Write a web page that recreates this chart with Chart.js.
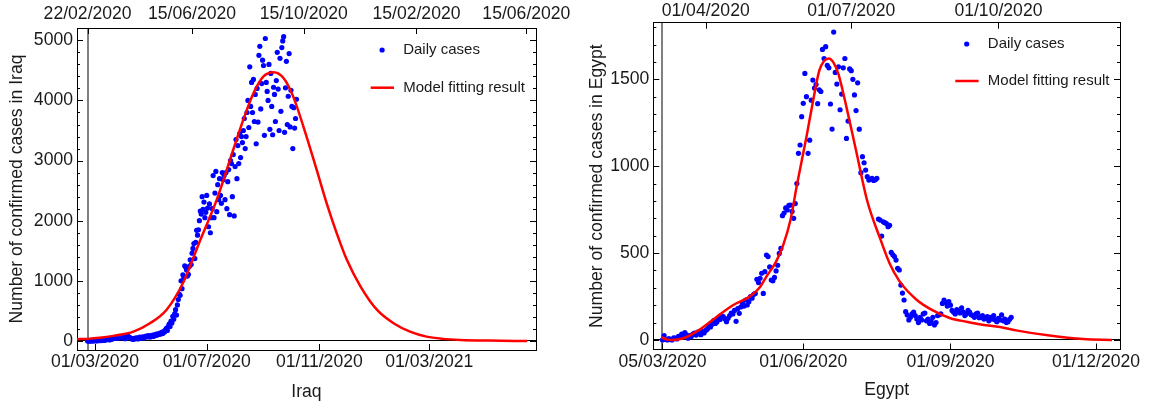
<!DOCTYPE html>
<html lang="en">
<head>
<meta charset="UTF-8">
<title>Daily cases and model fit - Iraq and Egypt</title>
<script src="https://cdn.jsdelivr.net/npm/chart.js"></script>
<style>
    html, body { margin: 0; padding: 0; background: #fff; }
    body { width: 1151px; height: 408px; position: relative; overflow: hidden; }
    canvas { position: absolute; top: 0; }
    #iraqChart { left: 0; }
    #egyptChart { left: 576px; }
</style>
</head>
<body>
<canvas id="iraqChart" width="575" height="408"></canvas>
<canvas id="egyptChart" width="575" height="408"></canvas>

<script>
// ---- Iraq (day 0 = 01/03/2020) ----
const iraqFirstDay = -8;
const iraqDaily = [
    0, 0, 0, 2, 1, 3, 5, 0, 8, 6, 3, 4, 10, 6, 12, 7, 15, 9,
    14, 20, 16, 25, 33, 26, 18, 40, 29, 35, 48, 55, 42, 61, 50, 66, 45, 72, 58, 64, 70,
    52, 47, 38, 60, 74, 81, 66, 56, 49, 39, 30, 28, 45, 36, 51, 42, 34, 58, 63, 47, 55, 70, 49, 62, 78, 68, 85, 72, 90, 66,
    70, 88, 96, 75, 104, 92, 115, 98, 120, 108, 130, 118, 142, 125, 160, 150, 185, 210, 175, 240,
    280, 240, 330, 300, 410, 360, 450, 520, 430, 600, 690, 780, 760, 1000, 870,
    1100, 1050, 1250, 1230, 1180, 1080, 1110, 1240, 1350, 1270, 1460, 1540, 1620, 1370, 1640,
    1840, 1760, 1850, 2000, 2160, 2110, 2400, 2190, 2310, 2050, 2140, 2420, 2210, 1900, 2280,
    1800, 2050, 2200, 2750, 2050, 2460, 2820, 2150, 2600, 2350, 2700, 2420, 2290, 2800, 2680,
    2750, 2350, 2800, 2200, 2650, 2850, 2100, 3000, 2950, 2400, 3100, 2080, 2900, 3350, 2700,
    3250, 2950, 3450, 3050, 3400, 3300, 3500, 3700, 3200, 3400, 3800, 4000, 3550, 4560, 3900,
    4300, 3800, 4350, 3650, 4100, 3280, 4200, 3640, 4750, 4900, 3860, 4280, 4670, 4580, 3420, 5030, 4300, 4150, 4000, 4600,
    3520, 4450, 3900, 3430, 4220, 4100, 3650, 4330, 4800, 4190, 3500, 4700, 3820, 4880, 4990, 5060, 3470, 4210, 4650, 3600,
    4070, 4780, 3560, 4170, 3900, 3200, 3880, 3540, 3700, 4020
];
const iraqFitDays   = [-19.6, -8, 5, 20, 42, 60, 78, 96, 115, 133, 151, 162, 173, 184, 195, 206, 216, 231, 242, 253, 264, 275, 290, 308, 326, 344, 362, 380, 399, 430, 472];
const iraqFitValues = [30, 35, 52, 85, 155, 294, 516, 960, 1680, 2350, 3180, 3680, 4120, 4400, 4470, 4370, 4080, 3400, 2850, 2290, 1790, 1350, 905, 516, 295, 155, 72, 35, 17, 6, 0];
const iraqBottomDays   = [0, 122, 245, 365];
const iraqBottomLabels = ['01/03/2020', '01/07/2020', '01/11/2020', '01/03/2021'];
const iraqTopDays   = [-8, 106, 228, 351, 471];
const iraqTopLabels = ['22/02/2020', '15/06/2020', '15/10/2020', '15/02/2020', '15/06/2020'];

// ---- Egypt (day 0 = 05/03/2020) ----
const egyptFirstDay = 0;
const egyptDaily = [
    0, 25, 3, 0, 8, 2, 0, 12, 10, 6,
    20, 15, 34, 28, 42, 30, 10, 25, 20, 33,
    40, 28, 45, 36, 30, 48, 40, 55, 62, 80,
    75, 90, 112, 95, 104, 125, 118, 138, 135, 120,
    105, 125, 140, 155, 150, 170, 107, 180, 153, 190,
    211, 195, 230, 201, 220, 250, 240, 262, 268, 349,
    330, 355, 384, 268, 393, 489, 480, 420, 345, 340,
    360, 397, 430, 498, 527, 715, 730, 760, 748, 775,
    776, 740, 700, 785, 900, 1074, 1122, 1285, 1362, 1534,
    1400, 1074, 1150, 1380, 1496, 1450, 1470, 1360, 1440, 1430,
    1672, 1620, 1688, 1580, 1566, 1358, 1214, 1772, 1540, 1473,
    1572, 1325, 1415, 1566, 1620, 1160, 1260, 1560, 1550, 1500,
    1410, 1320, 1480, 1213, 963, 1055, 1020, 978, 940, 920,
    925, 930, 918, 922, 930, 696, 690, 598, 680, 675,
    670, 652, 660, 504, 490, 480, 460, 412, 403, 316,
    270, 230, 163, 144, 115, 130, 150, 160, 140, 120,
    100, 130, 115, 150, 155, 110, 120, 95, 105, 130,
    86, 100, 140, 145, 150, 210, 230, 215, 195, 220,
    200, 170, 160, 150, 175, 165, 155, 185, 160, 140,
    150, 170, 160, 145, 140, 130, 150, 155, 128, 130,
    140, 120, 125, 135, 110, 130, 120, 140, 115, 105,
    125, 115, 144, 110, 120, 100, 105, 119, 130
];
const egyptFitDays   = [-0.5, 3, 6, 13, 23, 34, 44, 55, 61, 65, 71, 75.5, 80, 84, 90, 94, 98, 101, 104, 107, 110, 115, 121, 128, 136, 142, 148, 159, 169, 180, 190, 200, 211, 221, 242, 263, 281];
const egyptFitValues = [14, 2, 0, 10, 58, 134, 200, 253, 305, 365, 451, 547, 690, 890, 1170, 1370, 1550, 1605, 1620, 1595, 1530, 1340, 1090, 800, 585, 440, 340, 230, 170, 125, 105, 88, 75, 55, 25, 5, 0];
const egyptBottomDays   = [0, 88, 180, 271];
const egyptBottomLabels = ['05/03/2020', '01/06/2020', '01/09/2020', '01/12/2020'];
const egyptTopDays   = [27, 118, 210];
const egyptTopLabels = ['01/04/2020', '01/07/2020', '01/10/2020'];

// ---- shared styling ----
const FONT = '"Liberation Sans", Arial, sans-serif';
const textColor = '#1a1a1a';
const tickFont = { family: FONT, size: 17.6 };
const legendFont = '15px ' + FONT;
const blue = '#0000ff';
const red = '#ff0000';
const gray = '#808080';

function toPoints(firstDay, values) {
    return values.map((v, i) => ({ x: firstDay + i, y: v }));
}

function pairPoints(days, values) {
    return days.map((d, i) => ({ x: d, y: values[i] }));
}

function stepList(from, to, step) {
    const out = [];
    for (let v = from; v <= to; v += step) out.push(v);
    return out;
}

// small inward tick marks on all four sides of the frame
const innerTicks = {
    id: 'innerTicks',
    afterDatasetsDraw(chart, args, opts) {
        const { ctx, chartArea: a, scales } = chart;
        ctx.save();
        ctx.strokeStyle = '#000';
        ctx.lineWidth = 1;
        ctx.beginPath();
        scales.y.ticks.forEach(t => {
            const py = Math.round(scales.y.getPixelForValue(t.value)) + 0.5;
            const len = t.value % opts.major === 0 ? 6 : 3;
            ctx.moveTo(a.left, py); ctx.lineTo(a.left + len, py);
            ctx.moveTo(a.right, py); ctx.lineTo(a.right - len, py);
        });
        scales.x.ticks.forEach(t => {
            const px = Math.round(scales.x.getPixelForValue(t.value)) + 0.5;
            ctx.moveTo(px, a.bottom); ctx.lineTo(px, a.bottom - 6);
        });
        scales.x2.ticks.forEach(t => {
            const px = Math.round(scales.x2.getPixelForValue(t.value)) + 0.5;
            ctx.moveTo(px, a.top); ctx.lineTo(px, a.top + 6);
        });
        ctx.stroke();
        ctx.restore();
    }
};

// legend drawn inside the plot, top right
const boxLegend = {
    id: 'boxLegend',
    afterDatasetsDraw(chart, args, opts) {
        const { ctx, chartArea: a } = chart;
        const [dots, fit] = chart.data.datasets;
        const x0 = a.left + opts.x;
        const y1 = a.top + opts.y;
        const y2 = y1 + opts.gap;
        ctx.save();
        ctx.fillStyle = blue;
        ctx.beginPath();
        ctx.arc(x0 + 11.4, y1, 2.6, 0, Math.PI * 2);
        ctx.fill();
        ctx.strokeStyle = red;
        ctx.lineWidth = 2.5;
        ctx.beginPath();
        ctx.moveTo(x0, y2);
        ctx.lineTo(x0 + 23.3, y2);
        ctx.stroke();
        ctx.font = legendFont;
        ctx.fillStyle = textColor;
        ctx.textBaseline = 'middle';
        ctx.fillText(dots.label, x0 + 32.5, y1);
        ctx.fillText(fit.label, x0 + 32.5, y2);
        ctx.restore();
    }
};

function buildChart(id, c) {
    const border = { color: '#000', width: 1 };
    return new Chart(document.getElementById(id), {
        type: 'scatter',
        data: {
            datasets: [
                {
                    label: 'Daily cases',
                    data: c.dots,
                    backgroundColor: blue,
                    borderColor: blue,
                    borderWidth: 0,
                    pointRadius: 2.6,
                    order: 2
                },
                {
                    type: 'line',
                    label: 'Model fitting result',
                    data: c.fit,
                    borderColor: red,
                    borderWidth: 2.5,
                    pointRadius: 0,
                    fill: false,
                    cubicInterpolationMode: 'monotone',
                    order: 1
                }
            ]
        },
        options: {
            responsive: false,
            animation: false,
            devicePixelRatio: 1,
            layout: { padding: 0 },
            plugins: {
                legend: { display: false },
                tooltip: { enabled: false },
                innerTicks: { major: c.yMajor },
                boxLegend: c.legend
            },
            scales: {
                x: {
                    type: 'linear',
                    position: 'bottom',
                    min: c.xMin,
                    max: c.xMax,
                    afterBuildTicks: s => { s.ticks = c.bottomDays.map(v => ({ value: v })); },
                    afterFit: s => { s.height = c.bottomH; },
                    ticks: {
                        autoSkip: false, maxRotation: 0, padding: c.bottomPad,
                        color: textColor, font: tickFont,
                        callback: (v, i) => c.bottomLabels[i]
                    },
                    grid: {
                        drawTicks: false,
                        lineWidth: 2,
                        color: ctx => (c.grayAxis === 'x' && ctx.tick && ctx.tick.value === c.grayDay) ? gray : 'transparent'
                    },
                    border: border,
                    title: {
                        display: true, text: c.name, color: textColor, font: tickFont,
                        padding: { top: 0, bottom: c.namePad }
                    }
                },
                x2: {
                    type: 'linear',
                    position: 'top',
                    min: c.xMin,
                    max: c.xMax,
                    afterBuildTicks: s => { s.ticks = c.topDays.map(v => ({ value: v })); },
                    afterFit: s => { s.height = c.topH; },
                    ticks: {
                        autoSkip: false, maxRotation: 0, padding: c.topPad,
                        color: textColor, font: tickFont,
                        callback: (v, i) => c.topLabels[i]
                    },
                    grid: {
                        drawTicks: false,
                        lineWidth: 2,
                        color: ctx => (c.grayAxis === 'x2' && ctx.tick && ctx.tick.value === c.grayDay) ? gray : 'transparent'
                    },
                    border: border
                },
                y: {
                    type: 'linear',
                    position: 'left',
                    min: c.yMin,
                    max: c.yMax,
                    afterBuildTicks: s => { s.ticks = c.yTicks.map(v => ({ value: v })); },
                    afterFit: s => { s.width = c.leftW; },
                    ticks: {
                        autoSkip: false, padding: 4, color: textColor, font: tickFont,
                        callback: v => (v % c.yMajor === 0 ? String(v) : '')
                    },
                    grid: {
                        drawTicks: false,
                        lineWidth: 1,
                        color: ctx => (ctx.tick && ctx.tick.value === 0) ? '#000' : 'transparent'
                    },
                    border: border,
                    title: {
                        display: true, text: c.yTitle, color: textColor, font: tickFont,
                        padding: { top: c.yTitlePad, bottom: 0 }
                    }
                },
                y2: {
                    type: 'linear',
                    position: 'right',
                    min: c.yMin,
                    max: c.yMax,
                    afterFit: s => { s.width = c.rightW; },
                    ticks: { display: false },
                    grid: { display: false },
                    border: border
                }
            }
        },
        plugins: [innerTicks, boxLegend]
    });
}

buildChart('iraqChart', {
    name: 'Iraq',
    yTitle: 'Number of confirmed cases in Iraq',
    dots: toPoints(iraqFirstDay, iraqDaily),
    fit: pairPoints(iraqFitDays, iraqFitValues),
    xMin: -19.6, xMax: 481.5,
    yMin: -150, yMax: 5205,
    yTicks: stepList(0, 5200, 200), yMajor: 1000,
    bottomDays: iraqBottomDays, bottomLabels: iraqBottomLabels,
    topDays: iraqTopDays, topLabels: iraqTopLabels,
    grayAxis: 'x2', grayDay: -8,
    leftW: 77, rightW: 39, topH: 28, bottomH: 58,
    bottomPad: 2, topPad: 3.4, namePad: 5.5, yTitlePad: 6.7,
    legend: { x: 293.7, y: 22, gap: 37.7 }
});

buildChart('egyptChart', {
    name: 'Egypt',
    yTitle: 'Number of confirmed cases in Egypt',
    dots: toPoints(egyptFirstDay, egyptDaily),
    fit: pairPoints(egyptFitDays, egyptFitValues),
    xMin: -5.75, xMax: 286,
    yMin: -55, yMax: 1826,
    yTicks: stepList(0, 1800, 100), yMajor: 500,
    bottomDays: egyptBottomDays, bottomLabels: egyptBottomLabels,
    topDays: egyptTopDays, topLabels: egyptTopLabels,
    grayAxis: 'x', grayDay: 0,
    leftW: 77.3, rightW: 31, topH: 22.7, bottomH: 58.5,
    bottomPad: 2, topPad: 1.2, namePad: 7, yTitlePad: 10.7,
    legend: { x: 302, y: 21.3, gap: 37 }
});
</script>
</body>
</html>
